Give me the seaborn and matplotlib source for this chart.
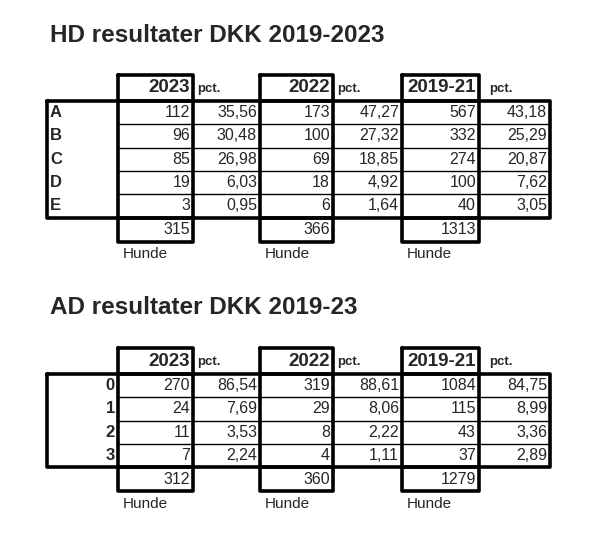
import matplotlib.pyplot as plt
import seaborn as sns

sns.set_theme(style="white")

periods = ["2023", "2022", "2019-21"]

hd_grades = ["A", "B", "C", "D", "E"]
hd_counts = [[112, 96, 85, 19, 3], [173, 100, 69, 18, 6], [567, 332, 274, 100, 40]]
hd_pct = [["35,56", "30,48", "26,98", "6,03", "0,95"],
          ["47,27", "27,32", "18,85", "4,92", "1,64"],
          ["43,18", "25,29", "20,87", "7,62", "3,05"]]
hd_totals = [315, 366, 1313]

ad_grades = ["0", "1", "2", "3"]
ad_counts = [[270, 24, 11, 7], [319, 29, 8, 4], [1084, 115, 43, 37]]
ad_pct = [["86,54", "7,69", "3,53", "2,24"],
          ["88,61", "8,06", "2,22", "1,11"],
          ["84,75", "8,99", "3,36", "2,89"]]
ad_totals = [312, 360, 1279]

fig = plt.figure(figsize=(6, 5.5), dpi=100)
ax = fig.add_axes([0, 0, 1, 1])
ax.set_xlim(0, 600)
ax.set_ylim(550, 0)
ax.axis("off")

left, lab_end = 47, 118
cols = [(118, 193, 260), (260, 333, 402), (402, 479, 550)]
rh = 23.3
thick = 2.6
fnt = "Liberation Sans"


def table(title, title_y, head_y, grades, counts, pcts, totals, label_right):
    ax.text(50, title_y, title, fontsize=17.5, fontweight="bold", family=fnt, va="center")
    top = head_y + 26
    bottom = top + rh * len(grades)
    tot_bottom = bottom + 24
    # thin row separators
    for i in range(1, len(grades)):
        y = top + rh * i
        ax.plot([lab_end, 550], [y, y], color="black", lw=1)
    # outer box of data rows
    ax.plot([left, 550, 550, left, left], [top, top, bottom, bottom, top], color="black", lw=thick)
    for k, (c0, c1, c2) in enumerate(cols):
        ax.plot([c0, c1, c1, c0, c0], [head_y, head_y, tot_bottom, tot_bottom, head_y],
                color="black", lw=thick)
        ax.plot([c0, c1], [top, top], color="black", lw=thick)
        ax.plot([c0, c1], [bottom, bottom], color="black", lw=thick)
        ax.text(c1 - 3, head_y + 13, periods[k], fontsize=13.5, fontweight="bold", family=fnt,
                ha="right", va="center")
        px = c1 + 4 if k < 2 else c1 + 10
        ax.text(px, head_y + 14, "pct.", fontsize=9.5, fontweight="bold", family=fnt, va="center")
        for i in range(len(grades)):
            y = top + rh * (i + 0.5)
            ax.text(c1 - 3, y, str(counts[k][i]), fontsize=11.5, family=fnt, ha="right", va="center")
            ax.text(c2 - 3, y, pcts[k][i], fontsize=11.5, family=fnt, ha="right", va="center")
        ax.text(c1 - 3, bottom + 12, str(totals[k]), fontsize=11.5, family=fnt, ha="right", va="center")
        ax.text(c0 + 5, tot_bottom + 13, "Hunde", fontsize=11, family=fnt, va="center")
    for i, g in enumerate(grades):
        y = top + rh * (i + 0.5)
        if label_right:
            ax.text(lab_end - 3, y, g, fontsize=12, fontweight="bold", family=fnt, ha="right", va="center")
        else:
            ax.text(left + 3, y, g, fontsize=12, fontweight="bold", family=fnt, va="center")


table("HD resultater DKK 2019-2023", 35, 75, hd_grades, hd_counts, hd_pct, hd_totals, False)
table("AD resultater DKK 2019-23", 308, 348, ad_grades, ad_counts, ad_pct, ad_totals, True)

fig.savefig("out.png", dpi=100)
